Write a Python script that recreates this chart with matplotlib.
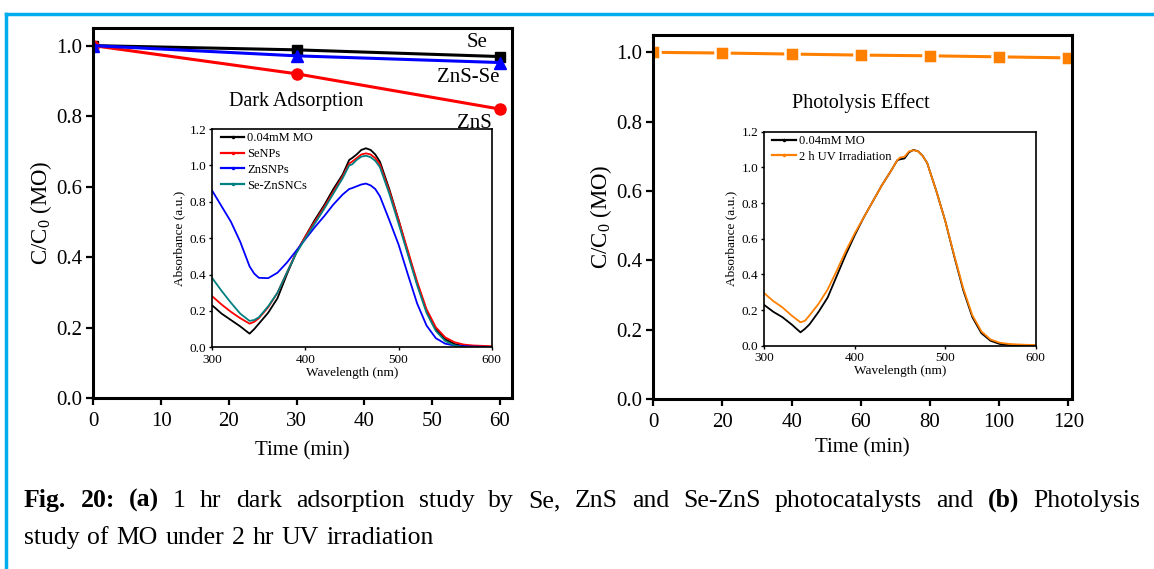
import matplotlib
matplotlib.use('Agg')
import matplotlib.pyplot as plt
from matplotlib.lines import Line2D
import numpy as np

plt.rcParams['font.family'] = ['Liberation Serif', 'DejaVu Serif']
plt.rcParams['mathtext.fontset'] = 'custom'
plt.rcParams['mathtext.rm'] = 'Liberation Serif'

# ---- data: main panels ----
time_a = [0, 30, 60]
se_a = [1.0, 0.988, 0.969]
zns_a = [1.0, 0.92, 0.82]
znsse_a = [1.0, 0.971, 0.952]

time_b = [0, 20, 40, 60, 80, 100, 120]
photo_b = [1.0, 0.998, 0.995, 0.992, 0.990, 0.987, 0.984]

# ---- data: inset spectra ----
wl = [300, 310, 320, 330, 340, 345, 350, 360, 370, 380, 390, 400, 410, 420, 430, 440,
      447, 450, 455, 460, 465, 470, 475, 480, 490, 500, 510, 520, 530, 540, 550, 560,
      570, 580, 590, 600]
mo_a = [.230, .185, .150, .115, .075, .100, .130, .190, .270, .400, .520, .610, .700, .780, .870, .950,
        1.030, 1.040, 1.060, 1.085, 1.094, 1.085, 1.060, 1.020, .870, .700, .520, .350, .200, .100, .045, .018,
        .007, .003, .002, .001]
senp = [.280, .235, .195, .160, .130, .140, .160, .220, .300, .410, .520, .610, .690, .770, .855, .940,
        1.010, 1.020, 1.040, 1.060, 1.066, 1.060, 1.040, 1.005, .860, .700, .530, .360, .210, .110, .055, .028,
        .015, .010, .008, .006]
znsnp = [.860, .775, .690, .580, .445, .405, .382, .380, .410, .465, .530, .595, .660, .720, .785, .840,
         .870, .875, .885, .895, .900, .890, .870, .830, .700, .565, .400, .240, .120, .050, .020, .010,
         .006, .004, .003, .002]
sezns = [.380, .310, .245, .185, .145, .150, .165, .225, .300, .410, .515, .600, .680, .760, .845, .930,
         1.000, 1.005, 1.030, 1.048, 1.053, 1.045, 1.025, .990, .845, .680, .510, .340, .190, .090, .035, .010,
         .000, .000, .000, .000]

mo_b = [.228, .190, .160, .120, .075, .095, .120, .190, .270, .390, .510, .620, .720, .810, .900, .980,
        1.040, 1.045, 1.050, 1.085, 1.098, 1.090, 1.065, 1.025, .870, .700, .500, .310, .160, .070, .028, .010,
        .004, .002, .001, .001]
uv_b = [.294, .250, .215, .170, .131, .140, .170, .235, .315, .420, .530, .630, .720, .810, .900, .980,
        1.040, 1.055, 1.060, 1.090, 1.096, 1.090, 1.065, 1.025, .870, .700, .505, .320, .170, .080, .035, .017,
        .010, .007, .005, .004]

W, H = 1154, 569
fig = plt.figure(figsize=(W / 100, H / 100), dpi=100)


def style_main(ax):
    for s in ax.spines.values():
        s.set_linewidth(2.2)
    ax.tick_params(direction='out', length=4.8, width=1.6, labelsize=15, pad=3)
    ax.tick_params(axis='x', pad=5)
    ax.set_yticks(np.arange(0, 1.01, 0.2))
    ax.set_yticklabels(['%.1f' % v for v in np.arange(0, 1.01, 0.2)])
    ax.set_ylim(0, 1.05)
    ax.set_ylabel(r'C/C$_\mathrm{0}$ (MO)', fontsize=16.5, labelpad=2)


def style_inset(ax):
    for s in ax.spines.values():
        s.set_linewidth(1.2)
    ax.tick_params(direction='out', length=2.5, width=1.0, labelsize=9.5, pad=2)
    ax.set_xlim(300, 600)
    ax.set_ylim(0, 1.2)
    ax.set_xticks([300, 400, 500, 600])
    ax.set_yticks(np.arange(0, 1.21, 0.2))
    ax.set_yticklabels(['%.1f' % v for v in np.arange(0, 1.21, 0.2)])
    ax.set_xlabel('Wavelength (nm)', fontsize=9.5, labelpad=1)
    ax.set_ylabel('Absorbance (a.u.)', fontsize=9.5, labelpad=3)


def inset_legend(ax):
    leg = ax.legend(loc='upper left', bbox_to_anchor=(0.03, 0.985), frameon=False,
                    fontsize=9, handlelength=1.9, handletextpad=0.2, labelspacing=0.3,
                    borderpad=0, borderaxespad=0)
    for ln in leg.get_lines():
        ln.set_marker('.')
        ln.set_markersize(3)
        ln.set_linewidth(1.6)


# ---- panel (a) ----
ax1 = fig.add_axes([93.3 / W, 1 - 398 / H, (512 - 93.3) / W, (398 - 28) / H])
ax1.plot(time_a, se_a, color='black', lw=2.2, marker='s', ms=7)
ax1.plot(time_a, zns_a, color='#ff0000', lw=2.2, marker='o', ms=8)
ax1.plot(time_a, znsse_a, color='#0000ff', lw=2.2, marker='^', ms=8)
ax1.set_xlim(0, 61.8)
ax1.set_xticks(range(0, 61, 10))
style_main(ax1)
ax1.set_xlabel('Time (min)', fontsize=15, labelpad=8)
ax1.text(56.6, 1.008, 'Se', fontsize=15, ha='center', va='center')
ax1.text(55.3, 0.909, 'ZnS-Se', fontsize=15, ha='center', va='center')
ax1.text(56.2, 0.779, 'ZnS', fontsize=15, ha='center', va='center')
ax1.text(30.0, 0.841, 'Dark Adsorption', fontsize=14.5, ha='center', va='center')

in1 = fig.add_axes([212.3 / W, 1 - 347.3 / H, (491.7 - 212.3) / W, (347.3 - 129) / H])
in1.plot(wl, mo_a, color='black', lw=1.3, label='0.04mM MO')
in1.plot(wl, senp, color='#ff0000', lw=1.3, label='SeNPs')
in1.plot(wl, znsnp, color='#0000ff', lw=1.3, label='ZnSNPs')
in1.plot(wl, sezns, color='#008080', lw=1.3, label='Se-ZnSNCs')
style_inset(in1)
inset_legend(in1)

# ---- panel (b) ----
ax2 = fig.add_axes([653.3 / W, 1 - 399 / H, (1071.7 - 653.3) / W, (399 - 35) / H])
ax2.plot(time_b, photo_b, color='#ff8000', lw=2.2, marker='s', ms=10,
         mec='white', mew=1.8)
ax2.set_xlim(0, 121)
ax2.set_xticks(range(0, 121, 20))
style_main(ax2)
ax2.set_xlabel('Time (min)', fontsize=15, labelpad=5)
ax2.text(60.1, 0.854, 'Photolysis Effect', fontsize=14.5, ha='center', va='center')

in2 = fig.add_axes([764.3 / W, 1 - 345.7 / H, (1035.7 - 764.3) / W, (345.7 - 131.7) / H])
in2.plot(wl, mo_b, color='black', lw=1.3, label='0.04mM MO')
in2.plot(wl, uv_b, color='#ff8000', lw=1.3, label='2 h UV Irradiation')
style_inset(in2)
inset_legend(in2)

# ---- frame lines ----
blue = '#00aeef'
fig.add_artist(Line2D([6 / W, 1], [1 - 14 / H, 1 - 14 / H], color=blue, lw=2.5))
fig.add_artist(Line2D([6 / W, 6 / W], [0, 1 - 14 / H], color=blue, lw=2.5))

# ---- caption (justified first line) ----
cap_size = 18.5
line1 = [('Fig.', True), ('20:', True), ('(a)', True), ('1', False), ('hr', False),
         ('dark', False), ('adsorption', False), ('study', False), ('by', False),
         ('Se,', False), ('ZnS', False), ('and', False), ('Se-ZnS', False),
         ('photocatalysts', False), ('and', False), ('(b)', True), ('Photolysis', False)]
line2 = [(w, False) for w in 'study of MO under 2 hr UV irradiation'.split()]

renderer = fig.canvas.get_renderer()


def caption_line(words, x0, x1, ybase, justify):
    texts = []
    for w, b in words:
        t = fig.text(0, 1 - ybase / H, w, fontsize=cap_size,
                     fontweight='bold' if b else 'normal', ha='left', va='baseline')
        texts.append(t)
    widths = [t.get_window_extent(renderer).width for t in texts]
    if justify:
        gap = (x1 - x0 - sum(widths)) / (len(texts) - 1)
    else:
        gap = 0.3 * cap_size * 100 / 72
    x = x0
    for t, w in zip(texts, widths):
        t.set_x(x / W)
        x += w + gap


caption_line(line1, 24, 1140, 507, True)
caption_line(line2, 24, 1140, 544, False)

fig.savefig('out.png', dpi=100)
